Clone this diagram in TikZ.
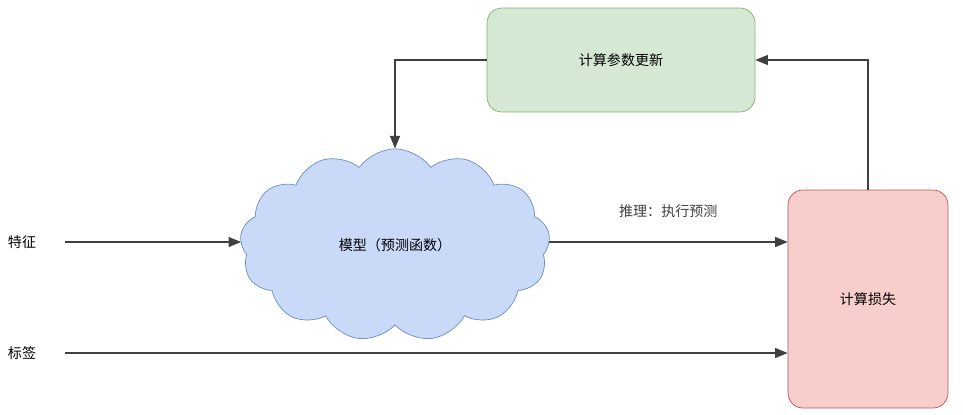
\documentclass[tikz,border=0pt]{standalone}
\usepackage{fontspec}
\newfontfamily\cjk{Noto Sans CJK SC}
\usetikzlibrary{positioning,arrows.meta,shapes.symbols}
\definecolor{boxgreen}{HTML}{D5E8D4}
\definecolor{linegreen}{HTML}{82B366}
\definecolor{boxred}{HTML}{F8CECC}
\definecolor{linered}{HTML}{B85450}
\definecolor{boxblue}{HTML}{C9DAF8}
\definecolor{lineblue}{HTML}{6C8EBF}
\begin{document}
\begin{tikzpicture}[
    x=0.02cm, y=-0.02cm,
    box/.style={draw, rounded corners=0.3cm, font=\cjk\fontsize{8}{10}\selectfont},
    flow/.style={-{Triangle[length=0.25cm,width=0.2cm]}, semithick, black!75},
    txt/.style={font=\cjk\fontsize{8}{10}\selectfont}
]
\useasboundingbox (0,0) rectangle (963,414);

% boxes
\node[box, fill=boxgreen, draw=linegreen, minimum width=5.36cm, minimum height=2.08cm] (update) at (621,60) {计算参数更新};
\node[box, fill=boxred, draw=linered, minimum width=3.2cm, minimum height=4.36cm] (loss) at (868,299) {计算损失};
\node[cloud, cloud puffs=13, cloud puff arc=110, draw=lineblue, fill=boxblue, minimum width=6.2cm, minimum height=3.5cm, txt] (model) at (395,245) {模型（预测函数）};

% inputs
\node[txt] (feat) at (22,242) {特征};
\node[txt] (label) at (22,353) {标签};

% connectors
\draw[flow] (65,242) -- (model.west |- 0,242);
\draw[flow] (65,353) -- (loss.west |- 0,353);
\draw[flow] (model.east |- 0,242) -- node[txt, above=0.35cm] {推理：执行预测} (loss.west |- 0,242);
\draw[flow] (loss.north) |- (update.east);
\draw[flow] (update.west) -| (model.north);
\end{tikzpicture}
\end{document}
